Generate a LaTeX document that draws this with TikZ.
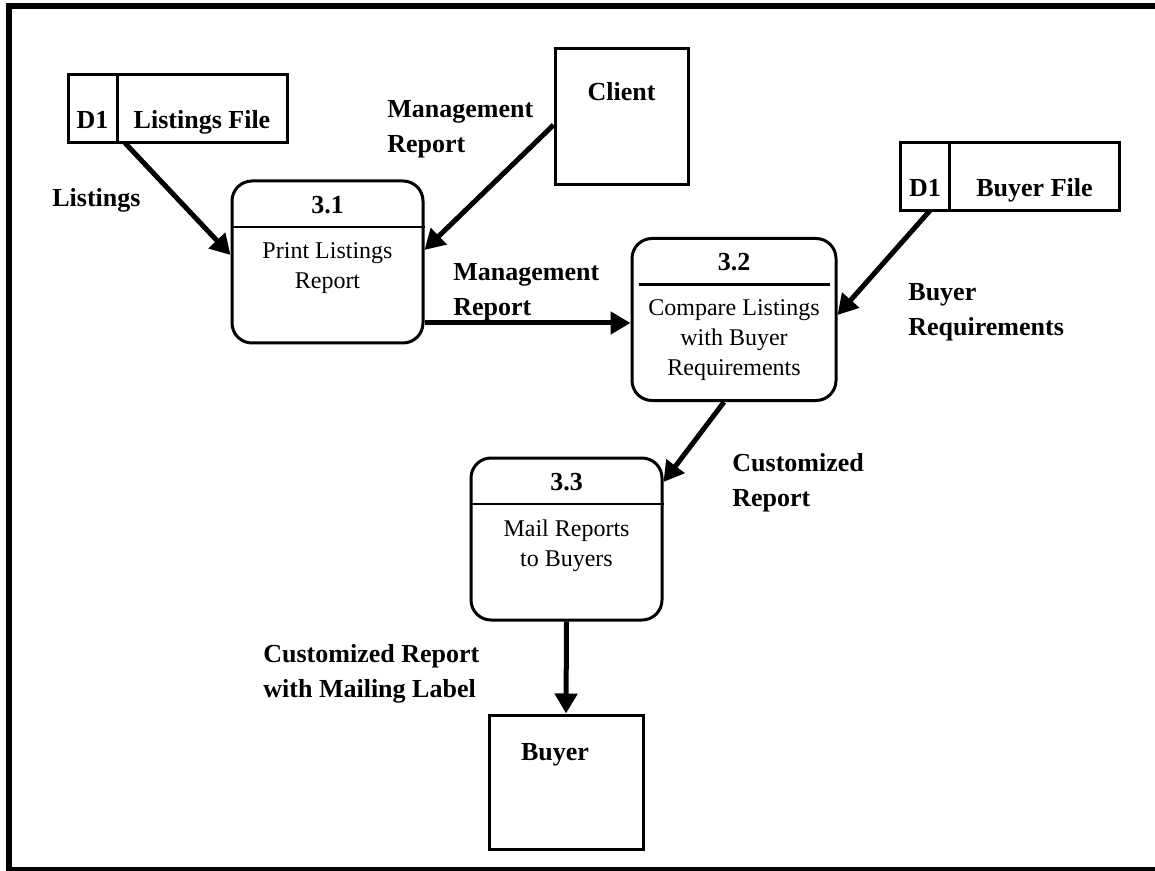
\documentclass[tikz,border=0pt]{standalone}
\usepackage{fontspec}
\setmainfont{Liberation Serif}
\usetikzlibrary{positioning,arrows.meta}
\tikzset{
    proc-box/.style = {draw, line width=1.5pt, rectangle, rounded corners=10pt, minimum width=95.5pt, minimum height=81pt},
    proc-num/.style = {font=\fontsize{13}{16}\selectfont\bfseries, inner sep=0pt},
    proc-text/.style = {font=\fontsize{12}{15}\selectfont, align=center, inner sep=0pt},
    divider/.style = {line width=1.2pt},
    store-id/.style = {draw, line width=1.5pt, rectangle, outer sep=0pt, minimum width=24.5pt, minimum height=34pt, font=\fontsize{13}{16}\selectfont\bfseries, text height=19.6pt, text depth=0pt},
    store-name/.style = {store-id, minimum width=85pt},
    entity-box/.style = {draw, line width=1.5pt, rectangle, font=\fontsize{13}{16}\selectfont\bfseries, text height=0pt, text depth=16.4pt},
    flow/.style = {line width=2.5pt, -{Triangle[length=10pt, width=11pt]}},
    flow-label/.style = {font=\fontsize{13}{17.5}\selectfont\bfseries, align=left, inner sep=0pt, anchor=west},
}
\begin{document}
\begin{tikzpicture}[x=0.5pt, y=-0.5pt]
\useasboundingbox (0,0) rectangle (1155,871);
\draw[line width=3pt] (1160,6) -- (9,6) -- (9,870) -- (1160,870);

% data stores
\node[store-id] (lf-id) at (92.5,109) {D1};
\node[store-name, right=0pt of lf-id] (lf) {Listings File};
\node[store-id] (bf-id) at (925,176.5) {D1};
\node[store-name, right=0pt of bf-id] (bf) {Buyer File};

% external entities
\node[entity-box, minimum width=66.5pt, minimum height=68pt] (client) at (621.5,117) {Client};
\node[entity-box, minimum width=77pt, minimum height=67pt, text depth=21.4pt] (buyer) at (566,782) {Buyer\hspace*{11pt}};

% processes
\node[proc-box] (p31) at (327.5,262) {};
\node[proc-num, below=8pt of p31.north] (p31-num) {3.1};
\draw[divider] ([yshift=-23.75pt]p31.north west) -- ([yshift=-23.75pt]p31.north east);
\node[proc-text, below=31.25pt of p31.north] (p31-text) {Print Listings\\Report};

\node[proc-box, minimum width=102pt] (p32) at (734,319.5) {};
\node[proc-num, below=8pt of p32.north] (p32-num) {3.2};
\draw[divider] ([xshift=4pt, yshift=-23.75pt]p32.north west) -- ([xshift=-4pt, yshift=-23.75pt]p32.north east);
\node[proc-text, below=31.25pt of p32.north] (p32-text) {Compare Listings\\with Buyer\\Requirements};

\node[proc-box] (p33) at (566.5,539) {};
\node[proc-num, below=8pt of p33.north] (p33-num) {3.3};
\draw[divider] ([yshift=-23.75pt]p33.north west) -- ([yshift=-23.75pt]p33.north east);
\node[proc-text, below=31.25pt of p33.north] (p33-text) {Mail Reports\\to Buyers};

% data flows
\draw[flow] ([xshift=4pt]lf-id.south east) -- ([yshift=3.5pt]p31.west);
\draw[flow] ([yshift=-4pt]client.west) -- ([yshift=6pt]p31.east);
\draw[flow] ([yshift=-30.5pt]p31.east) -- ([yshift=-30.5pt]p31.east -| p32.west);
\draw[flow] ([xshift=2.5pt]bf-id.south) -- ([yshift=2.25pt]p32.east);
\draw[flow] ([xshift=-5pt]p32.south) -- ([yshift=28.5pt]p33.east);
\draw[flow] (p33.south) -- (buyer.north);

% flow labels
\node[flow-label] (l-listings) at (52,200.6) {Listings};
\node[flow-label] (l-mgmt1) at (387,129.6) {Management\\Report};
\node[flow-label] (l-mgmt2) at (453,292.6) {Management\\Report};
\node[flow-label] (l-buyreq) at (908,312.6) {Buyer\\Requirements};
\node[flow-label] (l-cust) at (732,482.6) {Customized\\Report};
\node[flow-label] (l-custmail) at (263,674) {Customized Report\\with Mailing Label};
\end{tikzpicture}
\end{document}
